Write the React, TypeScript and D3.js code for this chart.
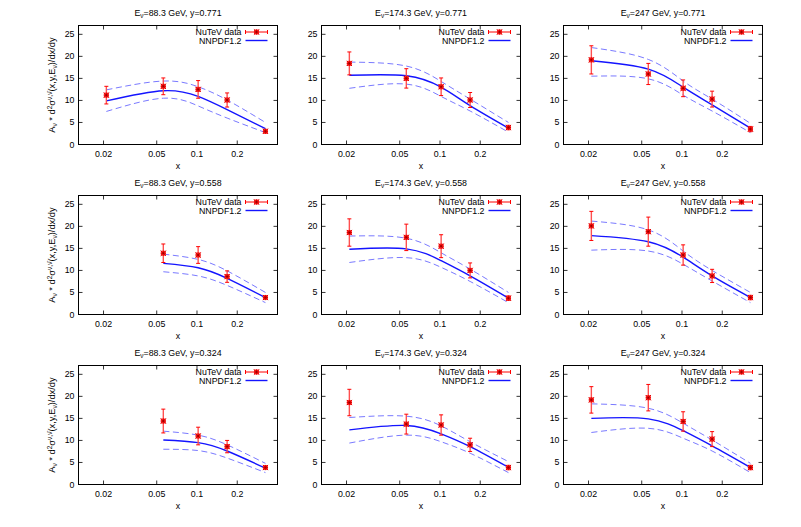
import React from "react";
import * as d3 from "d3";

const energies = ["88.3", "174.3", "247"];
const yValues = ["0.771", "0.558", "0.324"];
const xPoints = [0.021, 0.056, 0.102, 0.168, 0.325];
const xTicks = [0.02, 0.05, 0.1, 0.2];
const yTicks = [0, 5, 10, 15, 20, 25];

type V = (number | null)[];
// panels row-major: rows = y values, columns = energies
const dataValues: V[] = [
  [11.2, 13.2, 12.5, 10.1, 3.0],
  [18.4, 15.0, 13.1, 10.1, 3.85],
  [19.2, 16.0, 12.75, 10.3, 3.5],
  [null, 13.9, 13.5, 8.6, 3.85],
  [18.6, 17.5, 15.5, 10.0, 3.7],
  [20.1, 18.8, 13.5, 8.75, 3.85],
  [null, 14.4, 11.0, 8.6, 3.85],
  [18.6, 13.7, 13.5, 9.0, 3.85],
  [19.2, 19.7, 14.3, 10.3, 3.85],
];
const dataErrors: V[] = [
  [2.0, 1.9, 2.0, 1.6, 0.4],
  [2.6, 2.2, 2.0, 1.7, 0.5],
  [3.2, 2.4, 1.9, 1.8, 0.6],
  [null, 2.1, 1.9, 1.3, 0.4],
  [3.1, 3.0, 2.6, 1.7, 0.5],
  [3.3, 3.3, 2.3, 1.5, 0.5],
  [null, 2.7, 2.0, 1.4, 0.4],
  [3.0, 2.25, 2.3, 1.5, 0.5],
  [3.0, 3.0, 2.2, 1.7, 0.5],
];
const theoryCentral: V[] = [
  [9.9, 12.2, 10.9, 7.9, 3.6],
  [15.7, 15.6, 13.0, 8.8, 3.7],
  [19.0, 17.1, 13.0, 9.0, 3.7],
  [null, 11.6, 10.6, 8.2, 3.85],
  [14.8, 14.9, 12.2, 8.75, 3.7],
  [17.9, 16.5, 13.0, 8.75, 3.85],
  [null, 10.1, 9.5, 7.6, 3.7],
  [12.4, 13.4, 11.5, 8.6, 3.9],
  [15.0, 14.9, 12.2, 8.75, 3.85],
];
const theoryUpper: V[] = [
  [12.4, 14.4, 13.1, 10.1, 5.0],
  [18.7, 17.8, 14.3, 10.3, 5.0],
  [22.0, 19.3, 14.4, 10.3, 4.8],
  [null, 13.7, 12.5, 9.9, 5.0],
  [17.8, 17.3, 14.0, 10.3, 5.0],
  [21.2, 19.2, 14.4, 10.0, 5.0],
  [null, 12.1, 11.2, 9.0, 4.8],
  [15.2, 15.5, 13.3, 9.7, 5.2],
  [18.3, 17.3, 13.9, 10.1, 4.8],
];
const theoryLower: V[] = [
  [7.5, 10.5, 8.75, 6.0, 2.7],
  [12.75, 13.7, 10.9, 7.6, 2.8],
  [15.5, 14.9, 11.2, 7.6, 2.7],
  [null, 9.7, 8.75, 6.6, 2.7],
  [11.8, 12.9, 10.7, 7.5, 2.7],
  [14.6, 14.4, 11.4, 7.6, 2.7],
  [null, 8.0, 7.7, 6.0, 2.7],
  [9.4, 11.2, 9.7, 7.1, 2.7],
  [11.8, 12.75, 10.5, 7.6, 2.7],
];

const FONT = "'Liberation Sans', Arial, Helvetica, sans-serif";
const FS = 8.8;
const SFS = 6.5;
const colLefts = [78.5, 321.5, 563.5];
const PW = 199;
const rowTops = [25.5, 195.5, 365.5];
const PH = 119;
const RED = "#ff0000";
const BLUE = "#1414ff";
const LBLUE = "#7a7aff";

function Marker({ x, y }: { x: number; y: number }) {
  const s = 2.6;
  return (
    <g>
      <rect x={x - 2.5} y={y - 2.5} width={5} height={5} fill="#ff3030" />
      <g stroke="#e00000" strokeWidth={1}>
        <line x1={x - s} x2={x + s} y1={y - s} y2={y + s} />
        <line x1={x - s} x2={x + s} y1={y + s} y2={y - s} />
        <line x1={x - s} x2={x + s} y1={y} y2={y} />
        <line x1={x} x2={x} y1={y - s} y2={y + s} />
      </g>
      <rect x={x - 0.8} y={y - 0.8} width={1.6} height={1.6} fill="#900000" />
    </g>
  );
}

function Panel({ idx }: { idx: number }) {
  const row = Math.floor(idx / 3);
  const col = idx % 3;
  const left = colLefts[col];
  const top = rowTops[row];
  const xs = d3.scaleLog().domain([0.013, 0.4]).range([left, left + PW]);
  const ys = d3.scaleLinear().domain([0, 27]).range([top + PH, top]);
  const mk = (arr: V) =>
    xPoints
      .map((x, i) => ({ x, v: arr[i] }))
      .filter((d) => d.v !== null) as { x: number; v: number }[];
  const line = d3
    .line<{ x: number; v: number }>()
    .x((d) => xs(d.x))
    .y((d) => ys(d.v))
    .curve(d3.curveNatural);
  const pts = mk(dataValues[idx]);
  const errs = dataErrors[idx];
  const right = left + PW;
  const bottom = top + PH;
  const tick = 4;
  const legY1 = top + 6.5;
  const legY2 = top + 15;
  return (
    <g>
      <text x={left + PW / 2} y={top - 10} textAnchor="middle" fontSize={FS} fontFamily={FONT}>
        E<tspan dy={2} fontSize={SFS}>ν</tspan>
        <tspan dy={-2}>{`=${energies[col]} GeV, y=${yValues[row]}`}</tspan>
      </text>
      {yTicks.map((t) => (
        <g key={"y" + t}>
          <line x1={left} x2={left + tick} y1={ys(t)} y2={ys(t)} stroke="#000" strokeWidth={0.8} />
          <line x1={right} x2={right - tick} y1={ys(t)} y2={ys(t)} stroke="#000" strokeWidth={0.8} />
          <text x={left - 4} y={ys(t)} textAnchor="end" dominantBaseline="central" fontSize={FS} fontFamily={FONT}>
            {t}
          </text>
        </g>
      ))}
      {xTicks.map((t) => (
        <g key={"x" + t}>
          <line x1={xs(t)} x2={xs(t)} y1={bottom} y2={bottom - tick} stroke="#000" strokeWidth={0.8} />
          <line x1={xs(t)} x2={xs(t)} y1={top} y2={top + tick} stroke="#000" strokeWidth={0.8} />
          <text x={xs(t)} y={bottom + 9} textAnchor="middle" dominantBaseline="central" fontSize={FS} fontFamily={FONT}>
            {String(t)}
          </text>
        </g>
      ))}
      <text x={left + PW / 2} y={bottom + 21} textAnchor="middle" dominantBaseline="central" fontSize={FS} fontFamily={FONT}>
        x
      </text>
      <path d={line(mk(theoryUpper[idx])) || ""} fill="none" stroke={LBLUE} strokeWidth={1} strokeDasharray="6,3.5" />
      <path d={line(mk(theoryLower[idx])) || ""} fill="none" stroke={LBLUE} strokeWidth={1} strokeDasharray="6,3.5" />
      <path d={line(mk(theoryCentral[idx])) || ""} fill="none" stroke={BLUE} strokeWidth={1.4} />
      {pts.map((d, i) => {
        const e = errs[xPoints.indexOf(d.x)] as number;
        const cx = xs(d.x);
        return (
          <g key={i}>
            <line x1={cx} x2={cx} y1={ys(d.v - e)} y2={ys(d.v + e)} stroke="#ff5050" strokeWidth={1.4} />
            <line x1={cx - 2} x2={cx + 2} y1={ys(d.v - e)} y2={ys(d.v - e)} stroke={RED} strokeWidth={1} />
            <line x1={cx - 2} x2={cx + 2} y1={ys(d.v + e)} y2={ys(d.v + e)} stroke={RED} strokeWidth={1} />
            <Marker x={cx} y={ys(d.v)} />
          </g>
        );
      })}
      <text x={right - 36} y={legY1} textAnchor="end" dominantBaseline="central" fontSize={FS} fontFamily={FONT}>
        NuTeV data
      </text>
      <line x1={right - 32} x2={right - 10} y1={legY1} y2={legY1} stroke={RED} strokeWidth={1} />
      <line x1={right - 32} x2={right - 32} y1={legY1 - 2} y2={legY1 + 2} stroke={RED} strokeWidth={1} />
      <line x1={right - 10} x2={right - 10} y1={legY1 - 2} y2={legY1 + 2} stroke={RED} strokeWidth={1} />
      <Marker x={right - 21} y={legY1} />
      <text x={right - 36} y={legY2} textAnchor="end" dominantBaseline="central" fontSize={FS} fontFamily={FONT}>
        NNPDF1.2
      </text>
      <line x1={right - 32} x2={right - 10} y1={legY2} y2={legY2} stroke={BLUE} strokeWidth={1.4} />
      <rect x={left} y={top} width={PW} height={PH} fill="none" stroke="#000" strokeWidth={1} />
      {col === 0 && (
        <text
          transform={`translate(${52},${top + PH / 2}) rotate(-90)`}
          textAnchor="middle"
          dominantBaseline="central"
          fontSize={9.3}
          fontFamily={FONT}
        >
          A<tspan dy={2} fontSize={SFS}>ν</tspan>
          <tspan dy={-2}> * d</tspan>
          <tspan dy={-3} fontSize={SFS}>2</tspan>
          <tspan dy={3}>σ</tspan>
          <tspan dy={-3} fontSize={SFS}>ν,ν̄</tspan>
          <tspan dy={3}>(x,y,E</tspan>
          <tspan dy={2} fontSize={SFS}>ν</tspan>
          <tspan dy={-2}>)/dx/dy</tspan>
        </text>
      )}
    </g>
  );
}

export default function App() {
  return (
    <svg width={801} height={527} style={{ position: "absolute", left: 0, top: 0, background: "#fff" }}>
      <rect width={801} height={527} fill="#fff" />
      {d3.range(9).map((i) => (
        <Panel key={i} idx={i} />
      ))}
    </svg>
  );
}
